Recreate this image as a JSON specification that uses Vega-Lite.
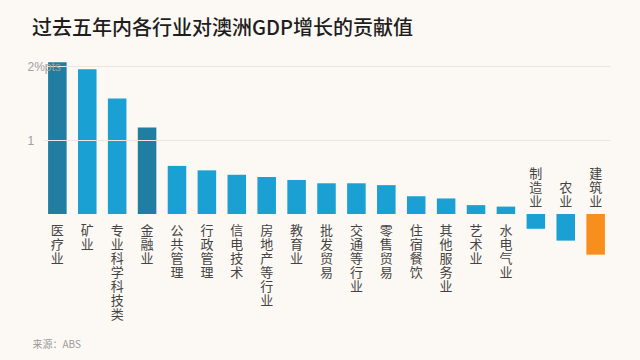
{
  "$schema": "https://vega.github.io/schema/vega-lite/v6.json",
  "width": 567,
  "height": 207,
  "autosize": {"type": "none"},
  "padding": {"left": 43, "top": 59, "right": 30, "bottom": 94},
  "background": "#fcf8f4",
  "config": {"view": {"stroke": null}, "font": "Noto Sans CJK SC"},
  "title": {
    "text": "过去五年内各行业对澳洲GDP增长的贡献值",
    "anchor": "start",
    "frame": "group",
    "dx": -11,
    "offset": 20,
    "fontSize": 20,
    "fontWeight": 500,
    "color": "#1e1e1e",
    "font": "Noto Sans CJK SC"
  },
  "data": {
    "values": [
      {"name": "医疗业", "value": 2.05},
      {"name": "矿业", "value": 1.955},
      {"name": "专业科学科技类", "value": 1.56},
      {"name": "金融业", "value": 1.17},
      {"name": "公共管理", "value": 0.65},
      {"name": "行政管理", "value": 0.59},
      {"name": "信电技术", "value": 0.53},
      {"name": "房地产等行业", "value": 0.5},
      {"name": "教育业", "value": 0.46},
      {"name": "批发贸易", "value": 0.415},
      {"name": "交通等行业", "value": 0.415},
      {"name": "零售贸易", "value": 0.39},
      {"name": "住宿餐饮", "value": 0.24},
      {"name": "其他服务业", "value": 0.21},
      {"name": "艺术业", "value": 0.12},
      {"name": "水电气业", "value": 0.1},
      {"name": "制造业", "value": -0.2},
      {"name": "农业", "value": -0.36},
      {"name": "建筑业", "value": -0.55}
    ]
  },
  "transform": [{"calculate": "split(datum.name, '')", "as": "chars"}],
  "encoding": {
    "x": {
      "field": "name",
      "type": "nominal",
      "sort": null,
      "scale": {"paddingInner": 0.38, "paddingOuter": 0.17},
      "axis": {
        "labels": false,
        "ticks": false,
        "domain": false,
        "grid": false,
        "title": "来源：ABS",
        "titleX": -11,
        "titleY": 78,
        "titleAlign": "left",
        "titleBaseline": "middle",
        "titleFontSize": 10,
        "titleFontWeight": "normal",
        "titleColor": "#9a9a9a",
        "titleFont": "Noto Sans CJK SC"
      }
    }
  },
  "layer": [
    {
      "mark": {"type": "bar"},
      "encoding": {
        "y": {
          "field": "value",
          "type": "quantitative",
          "scale": {"domain": [-0.703, 2.095], "nice": false, "zero": false},
          "axis": {
            "values": [1, 2],
            "labelExpr": "datum.value == 2 ? '2%pts' : '1'",
            "title": null,
            "domain": false,
            "ticks": false,
            "labelAlign": "left",
            "labelBaseline": "middle",
            "labelPadding": 16,
            "labelFontSize": 12,
            "labelColor": "#a0a0a0",
            "labelFont": "Liberation Sans",
            "gridColor": "#ebe6e1",
            "gridWidth": 1,
            "zindex": 1
          }
        },
        "y2": {"datum": 0},
        "color": {
          "condition": [
            {"test": "datum.name === '医疗业' || datum.name === '金融业'", "value": "#1f7ea1"},
            {"test": "datum.name === '建筑业'", "value": "#f78e1e"}
          ],
          "value": "#1aa0d3"
        }
      }
    },
    {
      "mark": {"type": "rule", "color": "#5a5a5a", "strokeWidth": 1.5},
      "encoding": {"y": {"datum": 0}}
    },
    {
      "transform": [{"filter": "datum.value >= 0"}],
      "mark": {"type": "text", "baseline": "top", "dy": 11, "fontSize": 13, "lineHeight": 14, "color": "#444444", "font": "Noto Sans CJK SC"},
      "encoding": {"y": {"datum": 0}, "text": {"field": "chars"}}
    },
    {
      "transform": [{"filter": "datum.value < 0 && length(datum.name) == 3"}],
      "mark": {"type": "text", "baseline": "bottom", "dy": -33, "fontSize": 13, "lineHeight": 14, "color": "#444444", "font": "Noto Sans CJK SC"},
      "encoding": {"y": {"datum": 0}, "text": {"field": "chars"}}
    },
    {
      "transform": [{"filter": "datum.value < 0 && length(datum.name) == 2"}],
      "mark": {"type": "text", "baseline": "bottom", "dy": -19, "fontSize": 13, "lineHeight": 14, "color": "#444444", "font": "Noto Sans CJK SC"},
      "encoding": {"y": {"datum": 0}, "text": {"field": "chars"}}
    }
  ]
}
